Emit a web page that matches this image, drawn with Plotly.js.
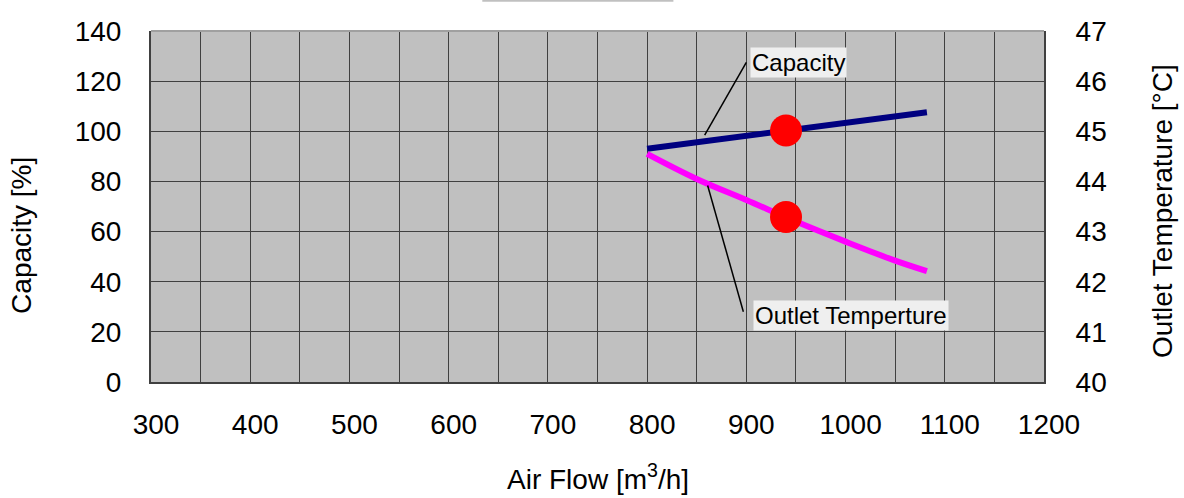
<!DOCTYPE html>
<html>
<head>
<meta charset="utf-8">
<script src="https://cdn.plot.ly/plotly-3.0.1.min.js"></script>
<style>html,body{margin:0;padding:0;background:#fff;}#chart{width:1184px;height:498px;}</style>
</head>
<body>
<div id="chart"></div>
<script>
// Data
const airFlow = [800, 850, 900, 950, 1000, 1050, 1082];
const capacity = [93.0, 95.6, 98.2, 100.8, 103.4, 105.9, 107.6];
const outletTemp = [44.55, 44.05, 43.63, 43.2, 42.8, 42.42, 42.21];
const ratedFlow = [940];
const ratedCapacity = [100.3];
const ratedTemp = [43.29];
const xTicks = [300, 400, 500, 600, 700, 800, 900, 1000, 1100, 1200];
const capTicks = [0, 20, 40, 60, 80, 100, 120, 140];
const tempTicks = [40, 41, 42, 43, 44, 45, 46, 47];
const labels = {
  x: 'Air Flow [m<sup>3</sup>/h]',
  y: 'Capacity [%]',
  y2: 'Outlet Temperature [°C]',
  cap: 'Capacity',
  temp: 'Outlet Temperture'
};
// leader lines: [x_tip, y_tip, x_tail, y_tail] in left-axis units
const capLeader = [858, 98.5, 900, 127.5];
const tempLeader = [861, 78.4, 897, 28];

const FONT = 'Liberation Sans, Arial, sans-serif';

const traces = [
  {x: airFlow, y: capacity, type: 'scatter', mode: 'lines',
   line: {color: '#000080', width: 6}, yaxis: 'y', hoverinfo: 'skip'},
  {x: airFlow, y: outletTemp, type: 'scatter', mode: 'lines',
   line: {color: '#ff00ff', width: 6, shape: 'spline'}, yaxis: 'y2', hoverinfo: 'skip'},
  {x: ratedFlow, y: ratedCapacity, type: 'scatter', mode: 'markers',
   marker: {color: '#ff0000', size: 32}, yaxis: 'y'},
  {x: ratedFlow, y: ratedTemp, type: 'scatter', mode: 'markers',
   marker: {color: '#ff0000', size: 32}, yaxis: 'y2'}
];

const layout = {
  width: 1184, height: 498,
  margin: {l: 151, r: 140, t: 31, b: 116},
  paper_bgcolor: '#ffffff',
  plot_bgcolor: '#c0c0c0',
  showlegend: false,
  font: {family: FONT, color: '#000', size: 28},
  xaxis: {
    range: [300, 1200], tickvals: xTicks, ticktext: xTicks.map(String),
    showgrid: true, gridcolor: '#404040', gridwidth: 1,
    minor: {dtick: 50, showgrid: true, gridcolor: '#404040', gridwidth: 1},
    zeroline: false, showline: true, linecolor: '#404040', linewidth: 2,
    ticks: '', ticklabelstandoff: 16, ticklabelshift: 5,
    tickfont: {family: FONT, size: 28, color: '#000'}
  },
  yaxis: {
    range: [0, 140], tickvals: capTicks, ticktext: capTicks.map(String),
    showgrid: true, gridcolor: '#404040', gridwidth: 1,
    zeroline: false, showline: true, linecolor: '#404040', linewidth: 2,
    ticks: '', ticklabelstandoff: 22,
    tickfont: {family: FONT, size: 28, color: '#000'}
  },
  yaxis2: {
    range: [40, 47], tickvals: tempTicks, ticktext: tempTicks.map(String),
    overlaying: 'y', side: 'right', showgrid: false,
    zeroline: false, showline: true, linecolor: '#404040', linewidth: 2,
    ticks: '', ticklabelstandoff: 24,
    tickfont: {family: FONT, size: 28, color: '#000'}
  },
  shapes: [
    {type: 'line', xref: 'paper', yref: 'paper', x0: 0, x1: 1, y0: 1, y1: 1,
     line: {color: '#a0a0a0', width: 2}},
    {type: 'line', xref: 'paper', yref: 'paper', x0: 0.371, x1: 0.585, y0: 1.086, y1: 1.086,
     line: {color: '#c0c0c0', width: 2}},
    {type: 'line', xref: 'x', yref: 'y', x0: capLeader[0], y0: capLeader[1], x1: capLeader[2], y1: capLeader[3],
     line: {color: '#000', width: 1.5}},
    {type: 'line', xref: 'x', yref: 'y', x0: tempLeader[0], y0: tempLeader[1], x1: tempLeader[2], y1: tempLeader[3],
     line: {color: '#000', width: 1.5}}
  ],
  annotations: [
    {xref: 'x', yref: 'y', x: 904, y: 127.4, xanchor: 'left', yanchor: 'middle',
     text: labels.cap, showarrow: false, bgcolor: '#efefef', borderpad: 1,
     font: {family: FONT, size: 24, color: '#000'}},
    {xref: 'x', yref: 'y', x: 907, y: 26.6, xanchor: 'left', yanchor: 'middle',
     text: labels.temp, showarrow: false, bgcolor: '#efefef', borderpad: 1,
     font: {family: FONT, size: 24, color: '#000'}},
    {xref: 'paper', yref: 'paper', x: 0.5, y: -0.2707, xanchor: 'center', yanchor: 'middle',
     text: labels.x, showarrow: false, font: {family: FONT, size: 28, color: '#000'}},
    {xref: 'paper', yref: 'paper', x: -0.1445, y: 0.419, xanchor: 'center', yanchor: 'middle',
     text: labels.y, textangle: -90, showarrow: false, font: {family: FONT, size: 28, color: '#000'}},
    {xref: 'paper', yref: 'paper', x: 1.1322, y: 0.487, xanchor: 'center', yanchor: 'middle',
     text: labels.y2, textangle: -90, showarrow: false, font: {family: FONT, size: 28, color: '#000'}}
  ]
};

Plotly.newPlot('chart', traces, layout, {displayModeBar: false, staticPlot: true});
</script>
</body>
</html>
